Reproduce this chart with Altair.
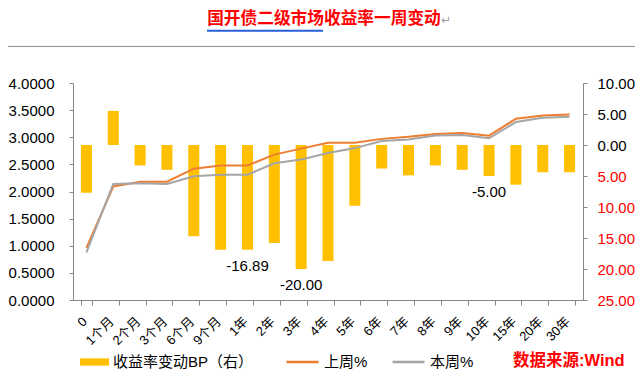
import altair as alt
import pandas as pd

# ---------------- data ----------------
categories = ["0", "1个月", "2个月", "3个月", "6个月", "9个月", "1年", "2年", "3年", "4年",
              "5年", "6年", "7年", "8年", "9年", "10年", "15年", "20年", "30年"]
change_bp = [-7.7, 5.5, -3.3, -4.0, -14.7, -16.9, -16.89, -15.8, -20.00, -18.7,
             -9.8, -3.8, -4.9, -3.3, -4.0, -5.00, -6.4, -4.4, -4.4]
last_week = [0.96, 2.09, 2.18, 2.18, 2.42, 2.48, 2.48, 2.68, 2.79, 2.90,
             2.90, 2.97, 3.01, 3.06, 3.08, 3.03, 3.34, 3.40, 3.42]
this_week = [0.88, 2.14, 2.15, 2.14, 2.28, 2.31, 2.31, 2.52, 2.59, 2.71,
             2.80, 2.93, 2.96, 3.03, 3.04, 2.98, 3.28, 3.36, 3.38]
labeled_categories = ["1年", "3年", "10年"]

bar_series = "收益率变动BP（右）"
line_series = ["上周%", "本周%"]
title_text = "国开债二级市场收益率一周变动"
return_mark = "↵"
source_text = "数据来源:Wind"
left_ticks = [0, 0.5, 1.0, 1.5, 2.0, 2.5, 3.0, 3.5, 4.0]
right_ticks = [-25, -20, -15, -10, -5, 0, 5, 10]

BAR_COLOR = "#FFC000"
LINE_COLORS = ["#ED7D31", "#A5A5A5"]
AXIS_GRAY = "#868686"
FONT = "'Liberation Sans', 'Noto Sans CJK SC', sans-serif"
CJK = "'Noto Sans CJK SC', sans-serif"

# ---------------- tables ----------------
bars_df = pd.DataFrame({"cat": categories, "bp": change_bp, "s": [bar_series] * len(categories)})
labels_df = bars_df[bars_df["cat"].isin(labeled_categories)].copy()
labels_df["txt"] = labels_df["bp"].map(lambda v: f"{v:.2f}")
lines_df = pd.concat([
    pd.DataFrame({"cat": categories, "val": last_week, "series": line_series[0]}),
    pd.DataFrame({"cat": categories, "val": this_week, "series": line_series[1]}),
])

x_axis = alt.Axis(title=None, labelAngle=-45, labelAlign="right", labelBaseline="middle",
                  labelFontSize=13, labelFont=FONT, labelColor="#000000", labelPadding=14,
                  labelOffset=-2, tickBand="extent", tickSize=5, tickColor=AXIS_GRAY,
                  domainColor=AXIS_GRAY, grid=False, labelOverlap=False)
x_enc = alt.X("cat:N", sort=categories, axis=x_axis,
              scale=alt.Scale(paddingInner=0.59, paddingOuter=0.295))

right_axis = alt.Axis(orient="right", title=None, values=right_ticks, grid=False,
                      labelExpr="format(abs(datum.value), '.2f')",
                      labelColor={"condition": {"test": "datum.value < 0", "value": "#FF0000"},
                                  "value": "#000000"},
                      labelFontSize=15, labelFont=FONT, labelPadding=10, tickSize=4,
                      labelOverlap=False, labelBound=False, labelFlush=False,
                      tickColor=AXIS_GRAY, domainColor=AXIS_GRAY)
bp_scale = alt.Scale(domain=[-25, 10], nice=False, zero=False)

bars = alt.Chart(bars_df).mark_bar().encode(
    x=x_enc,
    y=alt.Y("bp:Q", scale=bp_scale, axis=right_axis),
    y2=alt.datum(0),
    fill=alt.Fill("s:N", scale=alt.Scale(domain=[bar_series], range=[BAR_COLOR]),
                  legend=alt.Legend(orient="none", legendX=7, legendY=271, title=None,
                                    symbolType="M-1,-0.25H1V0.25H-1Z", symbolSize=841,
                                    symbolStrokeWidth=0, labelFontSize=15, labelFont=FONT,
                                    labelColor="#000000", labelOffset=4, clipHeight=16,
                                    padding=0)),
)

bar_labels = alt.Chart(labels_df).mark_text(fontSize=15, font=FONT, color="#000000",
                                            baseline="middle", dy=16).encode(
    x=x_enc,
    y=alt.Y("bp:Q", scale=bp_scale, axis=right_axis),
    text="txt:N",
)

left_axis = alt.Axis(orient="left", title=None, values=left_ticks, format=".4f", grid=False,
                     labelFontSize=15, labelFont=FONT, labelColor="#000000", labelPadding=15,
                     labelOverlap=False, labelFlush=False,
                     tickSize=4, tickColor=AXIS_GRAY, domainColor=AXIS_GRAY)

lines = alt.Chart(lines_df).mark_line(strokeWidth=2).encode(
    x=x_enc,
    y=alt.Y("val:Q", scale=alt.Scale(domain=[0, 4], nice=False, zero=False), axis=left_axis),
    stroke=alt.Stroke("series:N", sort=line_series,
                      scale=alt.Scale(domain=line_series, range=LINE_COLORS),
                      legend=alt.Legend(orient="none", direction="horizontal", legendX=212,
                                        legendY=271, title=None, symbolType="stroke",
                                        symbolSize=1024, symbolStrokeWidth=2.5,
                                        labelFontSize=15, labelFont=FONT, labelColor="#000000",
                                        labelOffset=4, columnPadding=23, clipHeight=16,
                                        padding=0)),
)

one = pd.DataFrame({"t": [title_text], "r": [return_mark], "s": [source_text]})
frame = alt.Chart(one).mark_rect(fill="transparent", stroke="#8C8C8C", strokeWidth=1).encode(
    x=alt.value(-69), x2=alt.value(565), y=alt.value(-36.6), y2=alt.value(289.4))
title = alt.Chart(one).mark_text(font=CJK, fontSize=16.7, fontWeight="bold", color="#FF0000",
                                 align="center", baseline="middle").encode(
    x=alt.value(251), y=alt.value(-64.3), text="t:N")
underline = alt.Chart(one).mark_rule(color="#2860DA", strokeWidth=2).encode(
    x=alt.value(134), x2=alt.value(250), y=alt.value(-52.3))
ret = alt.Chart(one).mark_text(font="DejaVu Sans", fontSize=12, color="#A0A0A0",
                               align="left", baseline="middle").encode(
    x=alt.value(368), y=alt.value(-63.5), text="r:N")
source = alt.Chart(one).mark_text(font=FONT, fontSize=16.5, fontWeight="bold", color="#FF0000",
                                  align="left", baseline="middle").encode(
    x=alt.value(440), y=alt.value(278.2), text="s:N")

chart = alt.layer(
    alt.layer(bars, bar_labels),
    lines,
    frame, title, underline, ret, source,
).resolve_scale(y="independent").properties(
    width=510, height=217,
    autosize=alt.AutoSizeParams(type="none"),
    padding={"left": 65, "top": 75, "right": 52, "bottom": 70},
    background="white",
).configure_view(stroke=None).configure_axis(labelOverlap=False)

chart.save("out.html", embed_options={"renderer": "svg", "actions": False})
